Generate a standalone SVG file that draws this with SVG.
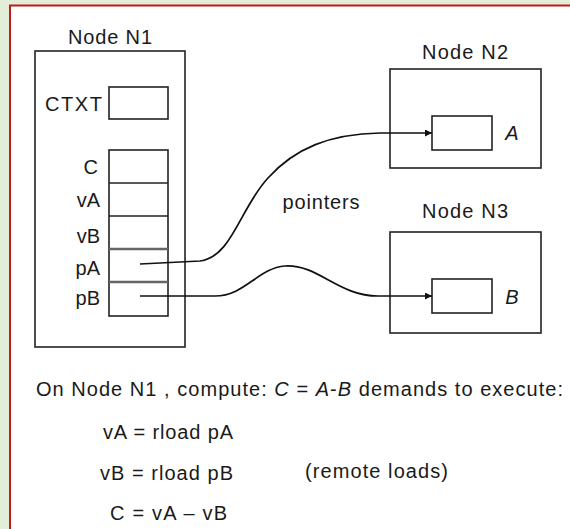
<svg xmlns="http://www.w3.org/2000/svg" width="570" height="529" viewBox="0 0 570 529">
<defs>
<style>
.t{font-family:"Liberation Sans",Arial,sans-serif;font-size:20px;fill:#1a1a1a}
.box{fill:none;stroke:#222;stroke-width:1.6}
.sep{stroke:#222;stroke-width:1.6}
.sepg{stroke:#666;stroke-width:2.4}
.con{fill:none;stroke:#111;stroke-width:1.7}
.it{font-style:italic}
</style>
<marker id="arr" viewBox="0 0 10 10" refX="10" refY="5" markerWidth="9" markerHeight="7" markerUnits="userSpaceOnUse" orient="auto">
<path d="M0,0 L10,5 L0,10 z" fill="#111"/>
</marker>
</defs>
<rect x="0" y="0" width="570" height="529" fill="#e3eed9"/>
<rect x="10" y="5.5" width="560" height="523.5" fill="#ffffff"/>
<path d="M10,529 L10,5.5 L570,5.5" fill="none" stroke="#c41a1a" stroke-width="2"/>

<g id="n1">
<text class="t" x="110" y="44" text-anchor="middle" textLength="84">Node N1</text>
<rect class="box" x="35" y="51" width="150" height="296"/>
<text class="t" x="102" y="111" text-anchor="end" textLength="57">CTXT</text>
<rect class="box" x="109" y="87" width="59" height="32"/>
<rect class="box" x="109" y="150" width="59" height="166"/>
<line class="sep" x1="109" y1="183" x2="168" y2="183"/>
<line class="sep" x1="109" y1="216" x2="168" y2="216"/>
<line class="sepg" x1="109" y1="249" x2="168" y2="249"/>
<line class="sepg" x1="109" y1="282" x2="168" y2="282"/>
<text class="t" x="98" y="174" text-anchor="end">C</text>
<text class="t" x="100" y="207" text-anchor="end">vA</text>
<text class="t" x="100" y="243" text-anchor="end">vB</text>
<text class="t" x="100" y="275" text-anchor="end">pA</text>
<text class="t" x="100" y="305" text-anchor="end">pB</text>
</g>

<g id="n2">
<text class="t" x="465" y="59" text-anchor="middle" textLength="86">Node N2</text>
<rect class="box" x="390" y="69" width="151" height="99"/>
<rect class="box" x="432" y="116" width="60" height="34"/>
<text class="t it" x="512" y="140" text-anchor="middle">A</text>
</g>

<g id="n3">
<text class="t" x="465" y="218" text-anchor="middle" textLength="86">Node N3</text>
<rect class="box" x="390" y="232" width="151" height="101"/>
<rect class="box" x="432" y="279" width="60" height="34"/>
<text class="t it" x="512" y="304" text-anchor="middle">B</text>
</g>

<g id="connectors">
<path class="con" marker-end="url(#arr)" d="M140,264 L200,261 C232,257 240,208 268,178 C295,148 330,134 380,133 L432,133"/>
<path class="con" marker-end="url(#arr)" d="M140,296 L215,296 C245,296 258,268 285,266 C318,264 338,296 378,296 L432,296"/>
<text class="t" x="321" y="209" text-anchor="middle" textLength="77">pointers</text>
</g>

<g id="notes">
<text class="t" x="36" y="396" textLength="527">On Node N1 , compute: <tspan class="it">C</tspan> = <tspan class="it">A</tspan>-<tspan class="it">B</tspan> demands to execute:</text>
<text class="t" x="103" y="439" textLength="130">vA = rload pA</text>
<text class="t" x="100" y="480" textLength="133">vB = rload pB</text>
<text class="t" x="305" y="478" textLength="143">(remote loads)</text>
<text class="t" x="110" y="520" textLength="117">C = vA – vB</text>
</g>
</svg>
